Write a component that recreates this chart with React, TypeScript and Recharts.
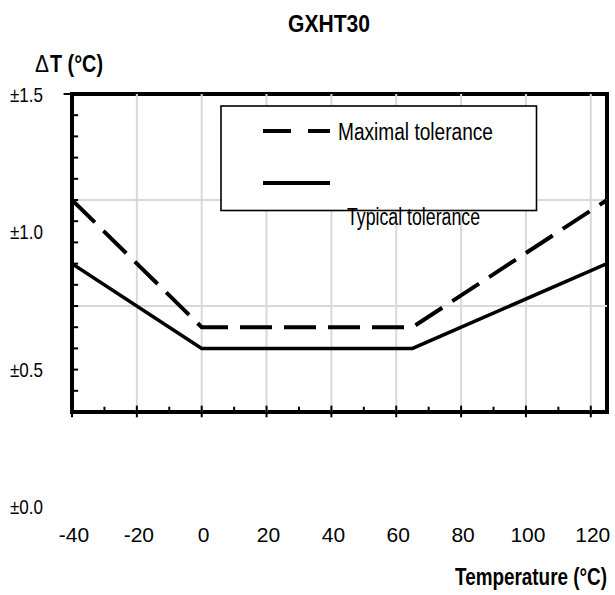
import React from 'react';
import { LineChart, Line, XAxis, YAxis, ReferenceLine, ReferenceArea, Legend } from 'recharts';

const FONT = "'Liberation Sans', Arial, sans-serif";

// tolerance curves (deg C)
const temperatures = [-40, 0, 65, 125];
const maximalTolerance = [1.0, 0.4, 0.4, 1.0];
const typicalTolerance = [0.7, 0.3, 0.3, 0.7];

const xTicks = [-40, -20, 0, 20, 40, 60, 80, 100, 120];
const xMinorTicks = [-30, -10, 10, 30, 50, 70, 90, 110];
const yGridLines = [0.5, 1.0];
const yMinorTicks = [0.1, 0.2, 0.3, 0.4, 0.5, 0.6, 0.7, 0.8, 0.9, 1.0, 1.1, 1.2, 1.3, 1.4];
// the printed y labels sit on their own (stretched) scale in the source
const yLabelTicks = [0, 0.5, 1.0, 1.5];

const data = temperatures.map((t, i) => ({
  t,
  maximal: maximalTolerance[i],
  typical: typicalTolerance[i],
}));

// narrow font look: squeeze text to the widths seen in the picture
const legendRows = [
  { lineY: 26, textX: 118, textY: 35, width: 155 },
  { lineY: 78, textX: 127, textY: 120, width: 133 },
];

const ToleranceLegend = (props: any) => {
  const payload = props.payload || [];
  return (
    <svg width={320} height={130} style={{ overflow: 'visible', display: 'block' }}>
      <rect x={1} y={1} width={315.5} height={104.5} fill="#fff" stroke="#000" strokeWidth={1.6} />
      {payload.map((entry: any, i: number) => {
        const row = legendRows[i];
        const dashed = entry.payload && entry.payload.strokeDasharray;
        return (
          <g key={entry.value}>
            <line
              x1={43}
              x2={110}
              y1={row.lineY}
              y2={row.lineY}
              stroke="#000"
              strokeWidth={4}
              strokeDasharray={dashed ? '28 17' : undefined}
            />
            <text
              x={row.textX}
              y={row.textY}
              fontFamily={FONT}
              fontSize={23}
              fill="#000"
              textLength={row.width}
              lengthAdjust="spacingAndGlyphs"
            >
              {entry.value}
            </text>
          </g>
        );
      })}
    </svg>
  );
};

const YLabelTick = (props: any) => {
  const { x, y, payload } = props;
  return (
    <text
      x={x}
      y={y}
      dy={7.5}
      textAnchor="end"
      fontFamily={FONT}
      fontSize={21}
      fill="#000"
      textLength={33}
      lengthAdjust="spacingAndGlyphs"
    >
      {`±${Number(payload.value).toFixed(1)}`}
    </text>
  );
};

const App: React.FC = () => {
  const gray = '#d9d9d9';
  return (
    <div style={{ position: 'absolute', left: 0, top: 0, width: 615, height: 595, background: '#fff' }}>
      <LineChart width={615} height={595} data={data} margin={{ top: 94, right: 8, bottom: 0, left: 0 }}>
        <XAxis
          dataKey="t"
          type="number"
          domain={[-40, 125]}
          ticks={xTicks}
          interval={0}
          allowDataOverflow
          axisLine={false}
          tickLine={false}
          tickSize={0}
          tickMargin={9}
          height={77}
          tick={{ fontSize: 21, fill: '#000', fontFamily: FONT, dx: 2 }}
        />
        <YAxis
          yAxisId="labels"
          domain={[1.5 - 424 / 275, 1.5]}
          ticks={yLabelTicks}
          interval={0}
          allowDataOverflow
          axisLine={false}
          tickLine={false}
          tickSize={0}
          tickMargin={29}
          width={72}
          tick={<YLabelTick />}
        />
        <YAxis yAxisId="data" domain={[-0.5, 1.5]} allowDataOverflow hide width={0} />

        {xTicks.slice(1).map((x) => (
          <ReferenceLine
            key={`gx${x}`}
            yAxisId="data"
            segment={[{ x, y: 0 }, { x, y: 1.5 }]}
            stroke={gray}
            strokeWidth={2}
          />
        ))}
        {yGridLines.map((y) => (
          <ReferenceLine
            key={`gy${y}`}
            yAxisId="data"
            segment={[{ x: -40, y }, { x: 125, y }]}
            stroke={gray}
            strokeWidth={2}
          />
        ))}

        <Line
          yAxisId="data"
          dataKey="maximal"
          name="Maximal tolerance"
          stroke="#000"
          strokeWidth={4}
          strokeDasharray="32 12"
          dot={false}
          activeDot={false}
          isAnimationActive={false}
        />
        <Line
          yAxisId="data"
          dataKey="typical"
          name="Typical tolerance"
          stroke="#000"
          strokeWidth={3.5}
          dot={false}
          activeDot={false}
          isAnimationActive={false}
        />

        <ReferenceArea
          yAxisId="data"
          x1={-40}
          x2={125}
          y1={0}
          y2={1.5}
          fill="none"
          stroke="#000"
          strokeWidth={4}
          ifOverflow="visible"
        />
        {yMinorTicks.map((y) => (
          <ReferenceLine
            key={`ty${y}`}
            yAxisId="data"
            segment={[{ x: -40, y }, { x: -38.1, y }]}
            stroke="#000"
            strokeWidth={2}
          />
        ))}
        <ReferenceLine
          yAxisId="data"
          segment={[{ x: -42.6, y: 1.5 }, { x: -40, y: 1.5 }]}
          stroke="#000"
          strokeWidth={2}
          ifOverflow="visible"
        />
        {xTicks.map((x) => (
          <ReferenceLine
            key={`tx${x}`}
            yAxisId="data"
            segment={[{ x, y: -0.025 }, { x, y: 0.03 }]}
            stroke="#000"
            strokeWidth={2}
          />
        ))}
        {xMinorTicks.map((x) => (
          <ReferenceLine
            key={`tm${x}`}
            yAxisId="data"
            segment={[{ x, y: 0 }, { x, y: 0.025 }]}
            stroke="#000"
            strokeWidth={2}
          />
        ))}

        <Legend
          layout="vertical"
          align="center"
          verticalAlign="middle"
          content={ToleranceLegend}
          wrapperStyle={{ left: 220, top: 105, width: 320, height: 130 }}
        />
      </LineChart>
      <svg
        width={615}
        height={595}
        style={{ position: 'absolute', left: 0, top: 0, pointerEvents: 'none' }}
      >
        <text x={329} y={32} textAnchor="middle" fontFamily={FONT} fontWeight="bold" fontSize={24}
          textLength={82} lengthAdjust="spacingAndGlyphs">
          GXHT30
        </text>
        <text x={35} y={72} fontFamily={FONT} fontSize={23} textLength={14} lengthAdjust="spacingAndGlyphs">
          Δ
        </text>
        <text x={50} y={72} fontFamily={FONT} fontWeight="bold" fontSize={23}
          textLength={53} lengthAdjust="spacingAndGlyphs">
          T (°C)
        </text>
        <text x={607} y={585} textAnchor="end" fontFamily={FONT} fontWeight="bold" fontSize={23}
          textLength={152} lengthAdjust="spacingAndGlyphs">
          Temperature (°C)
        </text>
      </svg>
    </div>
  );
};

export default App;
